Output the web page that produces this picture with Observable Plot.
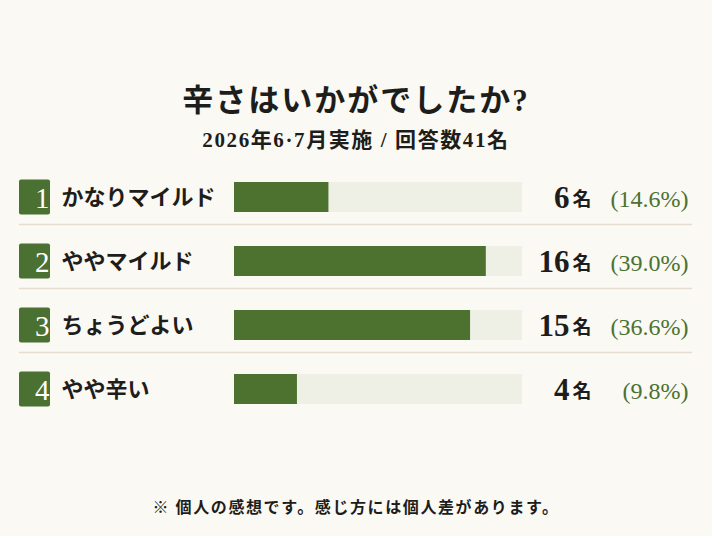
<!DOCTYPE html>
<html>
<head>
<meta charset="utf-8">
<script src="https://cdn.jsdelivr.net/npm/d3@7"></script>
<script src="https://cdn.jsdelivr.net/npm/@observablehq/plot@0.6"></script>
<style>
  html, body { margin: 0; padding: 0; background: #fbf9f4; }
  #wrap { position: relative; width: 712px; height: 536px; overflow: hidden; background: #fbf9f4; }
  .serif { font-family: "Liberation Serif", "DejaVu Serif", "Noto Sans CJK JP", serif; }
  #title { position: absolute; left: 0; width: 712px; top: 75px; text-align: center; font-size: 31px; font-weight: 700; color: #1d1d1b; letter-spacing: 2px; }
  #subtitle { position: absolute; left: 0; width: 712px; top: 123px; text-align: center; font-size: 21px; font-weight: 700; color: #1d1d1b; letter-spacing: 1.6px; }
  #chart { position: absolute; left: 0; top: 160px; }
  #footer { position: absolute; left: 0; width: 712px; top: 494px; text-align: center; font-size: 16px; font-weight: 700; color: #1d1d1b; letter-spacing: 1.6px; }
</style>
</head>
<body>
<div id="wrap">
  <div id="title" class="serif"></div>
  <div id="subtitle" class="serif"></div>
  <div id="chart"></div>
  <div id="footer" class="serif"></div>
</div>
<script>
const titleText = "辛さはいかがでしたか?";
const subtitleText = "2026年6·7月実施 / 回答数41名";
const footerText = "※ 個人の感想です。感じ方には個人差があります。";

const ranks = ["1", "2", "3", "4"];
const labels = ["かなりマイルド", "ややマイルド", "ちょうどよい", "やや辛い"];
const counts = [6, 16, 15, 4];
const percents = ["(14.6%)", "(39.0%)", "(36.6%)", "(9.8%)"];
const xMax = 18.3;

document.getElementById("title").textContent = titleText;
document.getElementById("subtitle").textContent = subtitleText;
document.getElementById("footer").textContent = footerText;

const rows = labels.map((label, i) => ({
  rank: ranks[i], label, count: counts[i], pct: percents[i]
}));

const FONT = "Liberation Serif, DejaVu Serif, Noto Sans CJK JP, serif";
const GREEN = "#4d7230";
const TRACK = "#eef0e6";
const INK = "#1d1d1b";

const chart = Plot.plot({
  width: 712,
  height: 270,
  marginLeft: 234,
  marginRight: 190,
  marginTop: 5,
  marginBottom: 9,
  style: { background: "transparent", fontFamily: FONT, overflow: "visible" },
  x: { domain: [0, xMax], axis: null },
  y: { domain: labels, axis: null, padding: 0 },
  marks: [
    // separators
    Plot.ruleY(rows.slice(0, 3), {
      y: "label", dy: 27, stroke: "#e6dccf", strokeWidth: 1.5,
      insetLeft: -215, insetRight: -170
    }),
    // badges
    Plot.cell(rows, {
      y: "label", fill: "#4b7132", rx: 2,
      insetLeft: -215, insetRight: 472, insetTop: 14.5, insetBottom: 14.5
    }),
    Plot.text(rows, {
      y: "label", text: "rank", frameAnchor: "left", dx: 34.5 - 234, dy: 1,
      fill: "white", fontSize: 29, fontFamily: FONT
    }),
    // category labels
    Plot.text(rows, {
      y: "label", text: "label", frameAnchor: "left", dx: 61 - 234, dy: 0,
      textAnchor: "start", fill: INK, fontSize: 22, fontWeight: 700, fontFamily: FONT
    }),
    // track
    Plot.barX(rows, {
      y: "label", x1: 0, x2: () => xMax, fill: TRACK,
      insetTop: 17, insetBottom: 17
    }),
    // value bar
    Plot.barX(rows, {
      y: "label", x1: 0, x2: "count", fill: GREEN,
      insetTop: 17, insetBottom: 17
    }),
    // counts
    Plot.text(rows, {
      y: "label", text: d => String(d.count), frameAnchor: "right", dx: 569 - 522, dy: 1,
      textAnchor: "end", fill: INK, fontSize: 31, fontWeight: 700, fontFamily: FONT
    }),
    Plot.text(rows, {
      y: "label", text: () => "名", frameAnchor: "right", dx: 572 - 522, dy: 2,
      textAnchor: "start", fill: INK, fontSize: 19, fontWeight: 700, fontFamily: FONT
    }),
    Plot.text(rows, {
      y: "label", text: "pct", frameAnchor: "right", dx: 688 - 522, dy: 2,
      textAnchor: "end", fill: "#4a7232", fontSize: 24, fontFamily: FONT
    })
  ]
});
document.getElementById("chart").appendChild(chart);
</script>
</body>
</html>
